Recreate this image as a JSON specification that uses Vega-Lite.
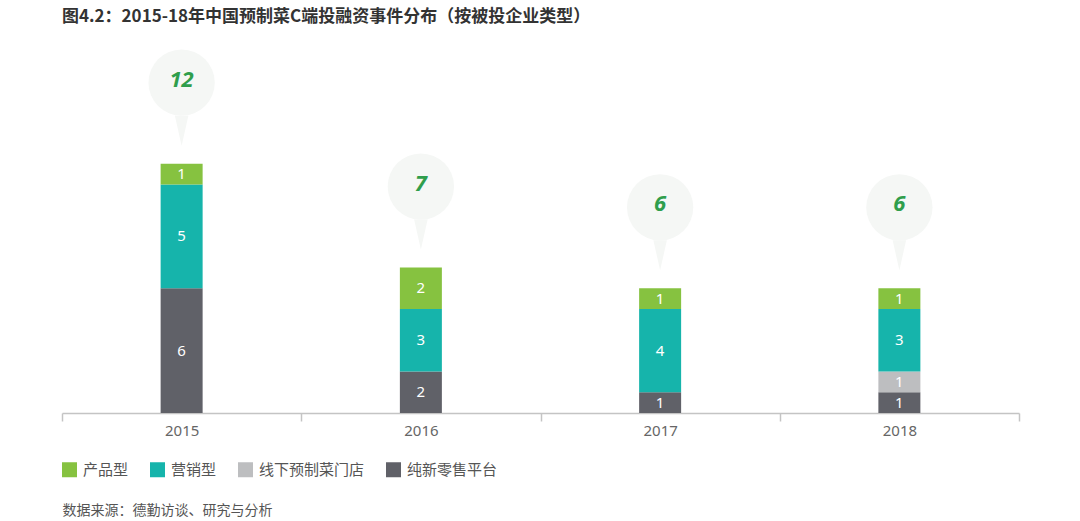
{
  "$schema": "https://vega.github.io/schema/vega-lite/v6.json",
  "width": 957,
  "height": 374,
  "autosize": {"type": "none"},
  "padding": {"left": 62, "top": 39, "right": 61, "bottom": 108},
  "background": "white",
  "config": {
    "view": {"stroke": null},
    "font": "Noto Sans, Noto Sans CJK SC, sans-serif"
  },
  "title": {
    "text": "图4.2：2015-18年中国预制菜C端投融资事件分布（按被投企业类型）",
    "anchor": "start",
    "frame": "group",
    "font": "Noto Sans CJK SC",
    "fontSize": 17,
    "fontWeight": "bold",
    "color": "#333333",
    "offset": 13,
    "dx": 0
  },
  "data": {
    "values": [
      {"year": 2015, "type": "纯新零售平台", "count": 6},
      {"year": 2015, "type": "营销型", "count": 5},
      {"year": 2015, "type": "产品型", "count": 1},
      {"year": 2016, "type": "纯新零售平台", "count": 2},
      {"year": 2016, "type": "营销型", "count": 3},
      {"year": 2016, "type": "产品型", "count": 2},
      {"year": 2017, "type": "纯新零售平台", "count": 1},
      {"year": 2017, "type": "营销型", "count": 4},
      {"year": 2017, "type": "产品型", "count": 1},
      {"year": 2018, "type": "纯新零售平台", "count": 1},
      {"year": 2018, "type": "线下预制菜门店", "count": 1},
      {"year": 2018, "type": "营销型", "count": 3},
      {"year": 2018, "type": "产品型", "count": 1}
    ]
  },
  "encoding": {
    "x": {
      "field": "year",
      "type": "quantitative",
      "scale": {"domain": [2014.5, 2018.5], "nice": false, "zero": false, "padding": 0},
      "axis": {
        "values": [2014.5, 2015, 2015.5, 2016, 2016.5, 2017, 2017.5, 2018, 2018.5],
        "labelExpr": "datum.value % 1 === 0 ? format(datum.value, 'd') : ''",
        "grid": false,
        "domainColor": "#c4c4c4",
        "domainWidth": 1.5,
        "tickColor": "#c4c4c4",
        "tickWidth": 1.5,
        "tickSize": 8,
        "tickOpacity": {"condition": {"test": "datum.value % 1 !== 0", "value": 1}, "value": 0},
        "labelFontSize": 15,
        "labelColor": "#666666",
        "labelPadding": 2,
        "labelFlush": false,
        "labelOverlap": false,
        "title": "数据来源：德勤访谈、研究与分析",
        "titleX": 0,
        "titleY": 97,
        "titleAlign": "left",
        "titleBaseline": "middle",
        "titleFontSize": 14,
        "titleFontWeight": "normal",
        "titleColor": "#555555"
      }
    }
  },
  "layer": [
    {
      "transform": [{"aggregate": [{"op": "sum", "field": "count", "as": "total"}], "groupby": ["year"]}],
      "layer": [
        {
          "mark": {"type": "point", "shape": "M-0.45,-1L0.45,-1L0,1Z", "filled": true, "fill": "#f5f7f5", "opacity": 1, "size": 900, "yOffset": -33, "strokeWidth": 0},
          "encoding": {"y": {"field": "total", "type": "quantitative", "scale": {"domain": [0, 18]}, "axis": null}}
        },
        {
          "mark": {"type": "circle", "fill": "#f5f7f5", "opacity": 1, "size": 4400, "yOffset": -81},
          "encoding": {"y": {"field": "total", "type": "quantitative", "scale": {"domain": [0, 18]}, "axis": null}}
        },
        {
          "mark": {"type": "text", "fontSize": 22, "fontWeight": "bold", "fontStyle": "italic", "color": "#2f9e4c", "yOffset": -84, "baseline": "middle", "align": "center"},
          "encoding": {
            "y": {"field": "total", "type": "quantitative", "scale": {"domain": [0, 18]}, "axis": null},
            "text": {"field": "total", "type": "quantitative"}
          }
        }
      ]
    },
    {
      "transform": [
        {"calculate": "indexof(['纯新零售平台', '线下预制菜门店', '营销型', '产品型'], datum.type)", "as": "rank"},
        {"stack": "count", "groupby": ["year"], "sort": [{"field": "rank", "order": "ascending"}], "as": ["y0", "y1"]},
        {"calculate": "(datum.y0 + datum.y1) / 2", "as": "mid"}
      ],
      "layer": [
        {
          "mark": {"type": "bar", "width": 42},
          "encoding": {
            "y": {"field": "y0", "type": "quantitative", "scale": {"domain": [0, 18]}, "axis": null},
            "y2": {"field": "y1"},
            "color": {
              "field": "type",
              "type": "nominal",
              "scale": {
                "domain": ["产品型", "营销型", "线下预制菜门店", "纯新零售平台"],
                "range": ["#86c240", "#16b4ab", "#bdbec0", "#606168"]
              },
              "legend": {
                "title": null,
                "orient": "none",
                "legendX": 0,
                "legendY": 423,
                "direction": "horizontal",
                "symbolType": "square",
                "symbolSize": 225,
                "symbolStrokeWidth": 0,
                "symbolOpacity": 1,
                "labelFontSize": 15,
                "labelColor": "#555555",
                "labelOffset": 6,
                "columnPadding": 21,
                "padding": 0
              }
            }
          }
        },
        {
          "mark": {"type": "text", "fontSize": 15, "color": "white", "baseline": "middle", "align": "center"},
          "encoding": {
            "y": {"field": "mid", "type": "quantitative", "scale": {"domain": [0, 18]}, "axis": null},
            "text": {"field": "count", "type": "quantitative"}
          }
        }
      ]
    }
  ]
}
